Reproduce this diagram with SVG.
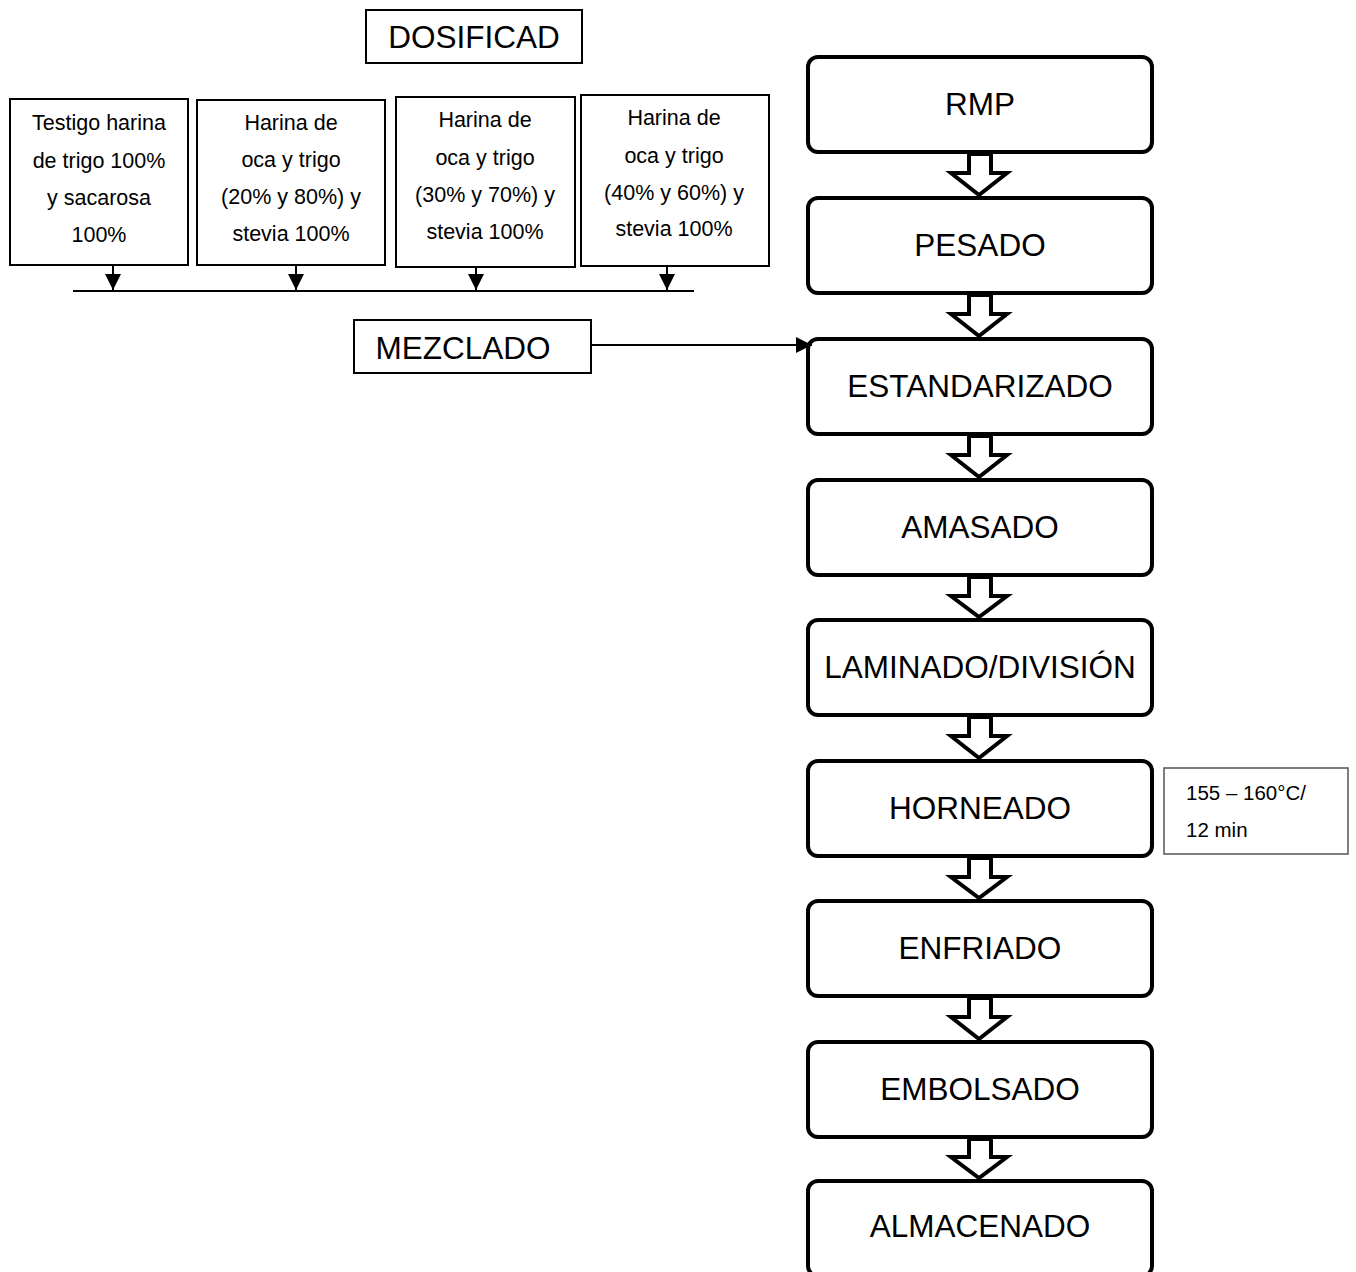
<svg xmlns="http://www.w3.org/2000/svg" width="1356" height="1272" viewBox="0 0 1356 1272">
<style>
.step{fill:#fff;stroke:#000;stroke-width:4}
.box{fill:#fff;stroke:#000;stroke-width:2}
.note{fill:#fff;stroke:#555;stroke-width:1.5}
.big{font-family:"Liberation Sans",Arial,sans-serif;font-size:31.5px;fill:#000;text-anchor:middle}
.sm{font-family:"Liberation Sans",Arial,sans-serif;font-size:21.5px;fill:#000;text-anchor:middle}
.nt{font-family:"Liberation Sans",Arial,sans-serif;font-size:20.5px;fill:#000}
.ln{stroke:#000;stroke-width:2;fill:none}
.blk{fill:#fff;stroke:#000;stroke-width:4;stroke-linejoin:miter}
</style>
<defs>
<marker id="ahs" viewBox="0 0 16 16" refX="16" refY="8" markerWidth="16" markerHeight="16" orient="auto" markerUnits="userSpaceOnUse">
<path d="M0,0 L16,8 L0,16 Z" fill="#000"/>
</marker>
</defs>

<g id="dosificad"><rect class="box" x="366" y="10" width="216" height="53"/><text class="big" x="474" y="48">DOSIFICAD</text></g>

<g id="f1"><rect class="box" x="10" y="99" width="178" height="166"/>
<text class="sm" x="99" y="130">Testigo harina</text><text class="sm" x="99" y="168">de trigo 100%</text><text class="sm" x="99" y="205">y sacarosa</text><text class="sm" x="99" y="242">100%</text></g>
<g id="f2"><rect class="box" x="197" y="100" width="188" height="165"/>
<text class="sm" x="291" y="130">Harina de</text><text class="sm" x="291" y="167">oca y trigo</text><text class="sm" x="291" y="204">(20% y 80%) y</text><text class="sm" x="291" y="241">stevia 100%</text></g>
<g id="f3"><rect class="box" x="396" y="97" width="179" height="170"/>
<text class="sm" x="485" y="127">Harina de</text><text class="sm" x="485" y="165">oca y trigo</text><text class="sm" x="485" y="202">(30% y 70%) y</text><text class="sm" x="485" y="239">stevia 100%</text></g>
<g id="f4"><rect class="box" x="581" y="95" width="188" height="171"/>
<text class="sm" x="674" y="125">Harina de</text><text class="sm" x="674" y="163">oca y trigo</text><text class="sm" x="674" y="200">(40% y 60%) y</text><text class="sm" x="674" y="236">stevia 100%</text></g>

<g id="mezclado"><rect class="box" x="354" y="320" width="237" height="53"/><text class="big" x="463" y="359">MEZCLADO</text></g>

<g id="rmp"><rect class="step" x="808" y="57" width="344" height="95" rx="10"/><text class="big" x="980" y="115">RMP</text></g>
<g id="pesado"><rect class="step" x="808" y="198" width="344" height="95" rx="10"/><text class="big" x="980" y="256">PESADO</text></g>
<g id="estandarizado"><rect class="step" x="808" y="339" width="344" height="95" rx="10"/><text class="big" x="980" y="397">ESTANDARIZADO</text></g>
<g id="amasado"><rect class="step" x="808" y="480" width="344" height="95" rx="10"/><text class="big" x="980" y="538">AMASADO</text></g>
<g id="laminado"><rect class="step" x="808" y="620" width="344" height="95" rx="10"/><text class="big" x="980" y="678">LAMINADO/DIVISIÓN</text></g>
<g id="horneado"><rect class="step" x="808" y="761" width="344" height="95" rx="10"/><text class="big" x="980" y="819">HORNEADO</text></g>
<g id="enfriado"><rect class="step" x="808" y="901" width="344" height="95" rx="10"/><text class="big" x="980" y="959">ENFRIADO</text></g>
<g id="embolsado"><rect class="step" x="808" y="1042" width="344" height="95" rx="10"/><text class="big" x="980" y="1100">EMBOLSADO</text></g>
<g id="almacenado"><rect class="step" x="808" y="1181" width="344" height="95" rx="10"/><text class="big" x="980" y="1237">ALMACENADO</text></g>

<g id="nota"><rect class="note" x="1164" y="768" width="184" height="86"/><text class="nt" x="1186" y="800">155 – 160°C/</text><text class="nt" x="1186" y="837">12 min</text></g>

<g id="connectors">
<line class="ln" x1="73" y1="291" x2="694" y2="291"/>
<line class="ln" x1="113" y1="265" x2="113" y2="290" marker-end="url(#ahs)"/>
<line class="ln" x1="296" y1="265" x2="296" y2="290" marker-end="url(#ahs)"/>
<line class="ln" x1="476" y1="267" x2="476" y2="290" marker-end="url(#ahs)"/>
<line class="ln" x1="667" y1="266" x2="667" y2="290" marker-end="url(#ahs)"/>
<line class="ln" x1="591" y1="345" x2="812" y2="345" marker-end="url(#ahs)"/>
<path class="blk" d="M969,154 H991 V173 H1007 L979,195 L951,173 H969 Z"/>
<path class="blk" d="M969,295 H991 V314 H1007 L979,336 L951,314 H969 Z"/>
<path class="blk" d="M969,436 H991 V455 H1007 L979,477 L951,455 H969 Z"/>
<path class="blk" d="M969,577 H991 V596 H1007 L979,617 L951,596 H969 Z"/>
<path class="blk" d="M969,717 H991 V736 H1007 L979,758 L951,736 H969 Z"/>
<path class="blk" d="M969,858 H991 V877 H1007 L979,898 L951,877 H969 Z"/>
<path class="blk" d="M969,998 H991 V1017 H1007 L979,1039 L951,1017 H969 Z"/>
<path class="blk" d="M969,1139 H991 V1157 H1007 L979,1178 L951,1157 H969 Z"/>
</g>
</svg>
